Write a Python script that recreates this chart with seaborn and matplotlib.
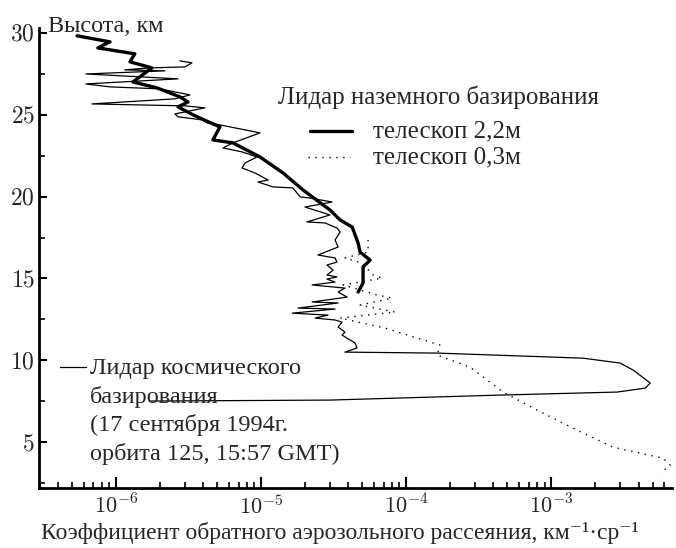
import matplotlib
matplotlib.use("Agg")
import matplotlib.pyplot as plt
import seaborn as sns
import pandas as pd
import numpy as np
from matplotlib.ticker import LogLocator, NullFormatter, MultipleLocator, FuncFormatter

# ---- data ----
# ground lidar, 2.2 m telescope
big_beta = [5.4e-7, 9.1e-7, 7.5e-7, 1.35e-6, 1.25e-6, 1.77e-6, 1.31e-6, 1.92e-6,
            2.76e-6, 3.14e-6, 2.68e-6, 3.40e-6, 5.21e-6, 4.66e-6, 6.41e-6, 9.84e-6,
            1.42e-5, 1.95e-5, 2.99e-5, 3.51e-5, 4.25e-5, 4.67e-5, 4.82e-5, 5.65e-5,
            5.05e-5, 5.05e-5, 4.67e-5]
big_h = [29.82, 29.45, 29.08, 28.72, 28.23, 27.86, 27.0, 26.64,
         26.09, 25.78, 25.48, 24.99, 24.25, 23.46, 23.28, 22.42,
         21.44, 20.40, 19.18, 18.57, 18.14, 17.16, 16.61, 16.12,
         15.70, 14.72, 14.17]

# ground lidar, 0.3 m telescope
small_beta = [5.47e-5, 5.47e-5, 3.79e-5, 4.98e-5, 5.92e-5, 6.83e-5, 3.68e-5, 6.31e-5,
              8.0e-5, 4.82e-5, 8.39e-5, 3.51e-5, 7.16e-5, 1.71e-4, 1.64e-4, 2.76e-4,
              4.66e-4, 8.0e-4, 1.51e-3, 2.68e-3, 5.92e-3, 6.62e-3, 5.65e-3]
small_h = [17.35, 16.61, 16.25, 15.94, 15.21, 15.02, 14.60, 13.99,
           13.80, 13.37, 12.95, 12.58, 11.97, 10.93, 10.32, 9.58,
           8.06, 6.96, 5.73, 4.69, 4.02, 3.59, 3.10]

# space lidar (17 Sep 1994, orbit 125)
space_beta = [2.76e-6, 3.34e-6, 2.99e-6, 1.71e-6, 1.15e-6, 2.18e-6, 6.21e-7, 2.68e-6,
              6.2e-7, 9.1e-7, 2.01e-6, 3.24e-6, 2.55e-6, 6.83e-7, 2.99e-6, 4.11e-6,
              2.55e-6, 2.68e-6, 3.98e-6, 4.24e-6, 5.21e-6, 9.84e-6, 6.41e-6, 5.47e-6,
              7.40e-6, 9.38e-6, 7.76e-6, 7.40e-6, 9.09e-6, 1.12e-5, 9.53e-6, 1.21e-5,
              1.66e-5, 1.86e-5, 2.18e-5, 3.09e-5, 2.01e-5, 2.99e-5, 2.07e-5, 2.76e-5,
              3.34e-5, 3.51e-5, 3.24e-5, 3.40e-5, 2.47e-5, 3.24e-5, 3.34e-5, 2.85e-5,
              3.14e-5, 2.85e-5, 3.34e-5, 2.85e-5, 3.24e-5, 2.25e-5, 3.79e-5, 3.40e-5,
              3.92e-5, 2.25e-5, 3.40e-5, 1.80e-5, 3.24e-5, 1.64e-5, 2.90e-5, 2.36e-5,
              3.24e-5, 3.62e-5, 3.40e-5, 3.79e-5, 3.62e-5, 4.45e-5, 4.59e-5, 3.79e-5,
              1.64e-4, 1.66e-3, 2.99e-3, 3.68e-3, 4.82e-3, 4.45e-3, 2.85e-3, 4.24e-4,
              2.99e-5, 1.71e-6]
space_h = [28.29, 28.17, 27.92, 27.86, 27.74, 27.68, 27.49, 27.19,
           26.88, 26.70, 26.58, 26.21, 25.97, 25.66, 25.54, 25.42,
           25.05, 24.87, 24.68, 24.50, 24.38, 23.89, 23.28, 22.97,
           22.73, 22.42, 22.05, 21.75, 21.44, 21.01, 20.89, 20.59,
           20.53, 19.98, 19.91, 19.67, 19.36, 18.88, 18.45, 18.39,
           18.08, 17.84, 17.35, 16.92, 16.43, 16.25, 16.00, 15.82,
           15.51, 15.21, 15.09, 14.96, 14.78, 14.60, 14.41, 14.17,
           13.86, 13.56, 13.50, 13.19, 13.13, 12.88, 12.76, 12.58,
           12.46, 12.33, 12.03, 11.72, 11.54, 11.05, 10.75, 10.50,
           10.44, 10.13, 9.83, 9.40, 8.61, 8.30, 8.06, 7.87,
           7.57, 7.51]

y_ticks = [5, 10, 15, 20, 25, 30]
x_decades = [1e-6, 1e-5, 1e-4, 1e-3]
x_tick_labels = [r'$10^{-6}$', r'$10^{-5}$', r'$10^{-4}$', r'$10^{-3}$']

ylabel = 'Высота, км'
xlabel = 'Коэффициент обратного аэрозольного рассеяния, км⁻¹·ср⁻¹'
legend_title = 'Лидар наземного базирования'
big_label = 'телескоп 2,2м'
small_label = 'телескоп 0,3м'
space_label = 'Лидар космического\nбазирования\n(17 сентября 1994г.\nорбита 125, 15:57 GMT)'

# ---- style ----
sns.set_style('ticks')
plt.rcParams['font.family'] = ['Liberation Serif', 'DejaVu Serif']
plt.rcParams['mathtext.fontset'] = 'cm'

fig = plt.figure(figsize=(6.76, 5.48), dpi=100)
ax = fig.add_axes([0.0577, 0.1095, 0.9363, 0.8395])
ax.set_xscale('log')

df_big = pd.DataFrame({'beta': big_beta, 'h': big_h})
df_small = pd.DataFrame({'beta': small_beta, 'h': small_h})
df_space = pd.DataFrame({'beta': space_beta, 'h': space_h})

sns.lineplot(data=df_space, x='beta', y='h', sort=False, estimator=None,
             color='black', linewidth=0.9, ax=ax)
sns.lineplot(data=df_small, x='beta', y='h', sort=False, estimator=None,
             color='black', linewidth=1.0, linestyle=(0, (1, 4)), ax=ax)
sns.lineplot(data=df_big, x='beta', y='h', sort=False, estimator=None,
             color='black', linewidth=2.4, ax=ax)

ax.set_xlim(2.95e-7, 6.8e-3)
ax.set_ylim(2.2, 30.3)

for s in ['top', 'right']:
    ax.spines[s].set_visible(False)
for s in ['left', 'bottom']:
    ax.spines[s].set_linewidth(2.0)
    ax.spines[s].set_color('black')

ax.set_yticks(y_ticks)
ax.yaxis.set_major_formatter(FuncFormatter(lambda v, p: r'$%d$' % v))
ax.yaxis.set_minor_locator(MultipleLocator(2.5))
ax.set_xticks(x_decades)
ax.set_xticklabels(x_tick_labels)
ax.xaxis.set_minor_locator(LogLocator(base=10, subs=np.arange(2, 10)))
ax.xaxis.set_minor_formatter(NullFormatter())

ax.tick_params(axis='both', which='both', direction='in', color='black')
ax.tick_params(axis='x', which='major', length=8, width=1.5, labelsize=16, pad=5)
ax.tick_params(axis='x', which='minor', length=4, width=1.2)
ax.tick_params(axis='y', which='major', length=6, width=1.5, labelsize=17, pad=3)
ax.tick_params(axis='y', which='minor', length=4, width=1.2)
ax.set_xlabel('')
ax.set_ylabel('')

fig.text(0.071, 0.952, ylabel, fontsize=17.5, ha='left', va='center')
fig.text(0.503, 0.027, xlabel, fontsize=17, ha='center', va='center')

# legend (ground lidar)
fig.text(0.648, 0.823, legend_title, fontsize=18, ha='center', va='center')
ax.plot([0.428, 0.494], [0.776, 0.776], transform=ax.transAxes, color='black', linewidth=2.4)
ax.plot([0.425, 0.491], [0.72, 0.72], transform=ax.transAxes, color='black',
        linewidth=1.0, linestyle=(0, (1, 4)))
fig.text(0.552, 0.761, big_label, fontsize=18, ha='left', va='center')
fig.text(0.552, 0.713, small_label, fontsize=18, ha='left', va='center')

# space lidar label
ax.plot([0.033, 0.074], [0.263, 0.263], transform=ax.transAxes, color='black', linewidth=0.9)
fig.text(0.133, 0.347, space_label, fontsize=17.5, ha='left', va='top', linespacing=1.4)

fig.savefig('out.png', dpi=100)
